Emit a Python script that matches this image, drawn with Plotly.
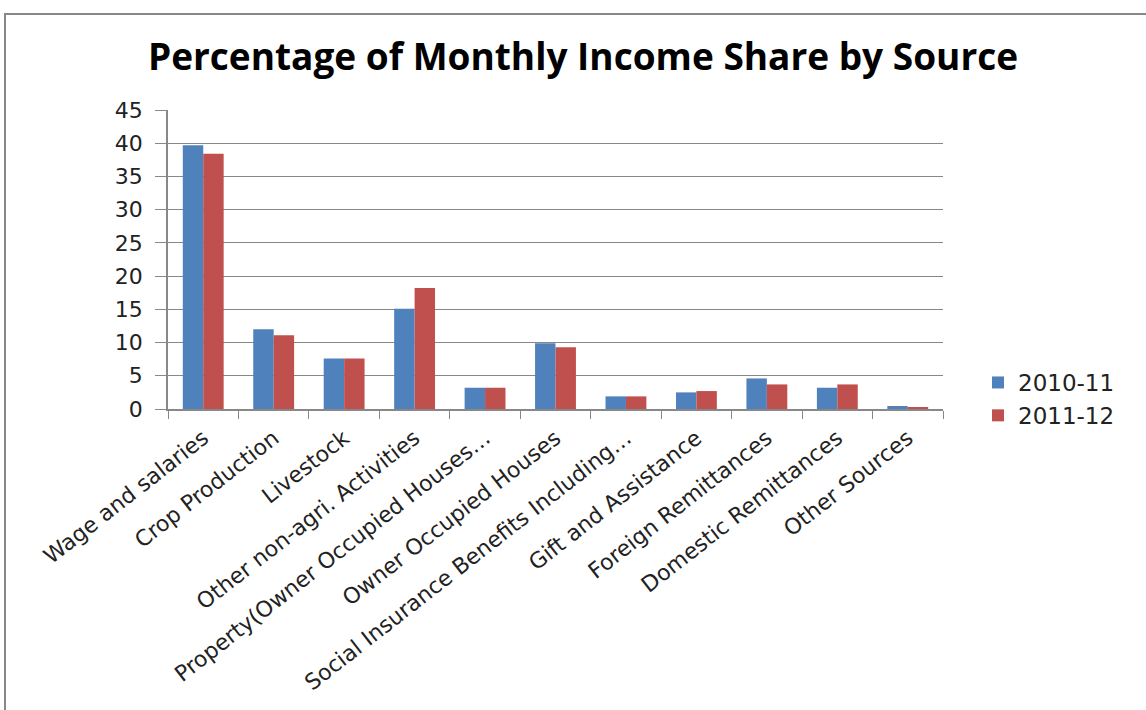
import plotly.graph_objects as go

categories = [
    "Wage and salaries",
    "Crop Production",
    "Livestock",
    "Other non-agri. Activities",
    "Property(Owner Occupied Houses…",
    "Owner Occupied Houses",
    "Social Insurance Benefits Including…",
    "Gift and Assistance",
    "Foreign Remittances",
    "Domestic Remittances",
    "Other Sources",
]
series_2010_11 = [39.7, 12.0, 7.6, 15.1, 3.2, 9.9, 1.9, 2.5, 4.6, 3.2, 0.45]
series_2011_12 = [38.4, 11.1, 7.6, 18.2, 3.2, 9.3, 1.9, 2.7, 3.7, 3.7, 0.25]
y_ticks = [0, 5, 10, 15, 20, 25, 30, 35, 40, 45]

W, H = 1146, 710
ml, mr, mt, mb = 168, W - 943, 110, H - 409

fig = go.Figure()
fig.add_trace(go.Bar(name="2010-11", x=categories, y=series_2010_11,
                     marker=dict(color="#4F81BD", line=dict(color="#4F81BD", width=0))))
fig.add_trace(go.Bar(name="2011-12", x=categories, y=series_2011_12,
                     marker=dict(color="#C0504D", line=dict(color="#C0504D", width=0))))

pw = W - ml - mr
ph = H - mt - mb
def px_x(x):
    return (x - ml) / pw
def px_y(y):
    return (H - mb - y) / ph

fig.update_layout(
    width=W, height=H,
    margin=dict(l=ml, r=mr, t=mt, b=mb, autoexpand=False),
    paper_bgcolor="white", plot_bgcolor="white",
    barmode="group", bargap=0.42, bargroupgap=0,
    title=dict(text="<b>Percentage of Monthly Income Share by Source</b>",
               x=px_x(583), xref="paper", xanchor="center",
               y=1 - 57 / H, yref="container", yanchor="middle",
               font=dict(family="Open Sans", size=37, color="black")),
    font=dict(family="DejaVu Sans", color="#222"),
    legend=dict(x=px_x(978), y=px_y(399), xanchor="left", yanchor="middle",
                font=dict(size=23, family="DejaVu Sans", color="#222"),
                tracegroupgap=20, itemwidth=30),
    xaxis=dict(tickangle=-38, tickson="boundaries", ticks="outside", ticklen=8,
               tickcolor="#888", showline=True, linecolor="#888", linewidth=1.5,
               tickfont=dict(size=22, family="DejaVu Sans", color="#222"),
               ticklabelstandoff=6, showgrid=False),
    yaxis=dict(range=[0, 45], tickvals=y_ticks, ticks="outside", ticklen=11,
               tickcolor="#888", showline=True, linecolor="#888", linewidth=1.5,
               gridcolor="#888", gridwidth=1.2,
               tickfont=dict(size=22, family="DejaVu Sans", color="#222"),
               ticklabelstandoff=8, zeroline=False),
    shapes=[dict(type="rect", xref="paper", yref="paper",
                 x0=px_x(5), x1=px_x(1160), y0=px_y(14), y1=px_y(720),
                 line=dict(color="#888", width=2), fillcolor="rgba(0,0,0,0)")],
)

fig.write_html("out.html", config={"displayModeBar": False},
               post_script="document.body.style.margin='0px';document.body.style.overflow='hidden';")
